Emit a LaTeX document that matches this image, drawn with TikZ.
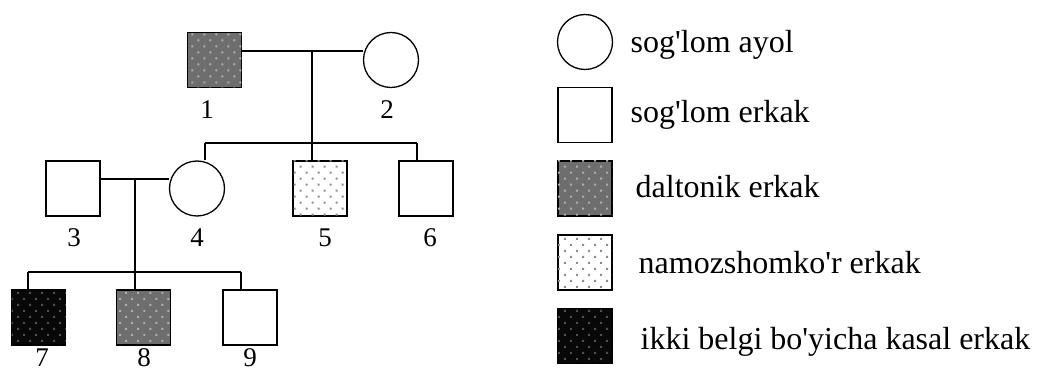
\documentclass[tikz,border=0pt]{standalone}
\usepackage{fontspec}
\setmainfont{Liberation Serif}
\usetikzlibrary{patterns.meta}

\definecolor{darkfill}{RGB}{110,110,110}
\definecolor{darkdot}{RGB}{175,175,175}
\definecolor{lightdot}{RGB}{140,140,140}
\definecolor{blackfill}{RGB}{8,8,8}
\definecolor{blackdot}{RGB}{80,80,80}

\begin{document}
\begin{tikzpicture}[x=1pt, y=-1pt, line width=1.3pt,
  male/.style={draw, rectangle, minimum width=54pt, minimum height=55pt, inner sep=0pt},
  female/.style={draw, circle, minimum size=55pt, inner sep=0pt},
  colourblind/.style={male, fill=darkfill,
    postaction={pattern={Dots[distance=8.5pt, radius=1.4pt, angle=45]}, pattern color=darkdot}},
  nightblind/.style={male, fill=white,
    postaction={pattern={Dots[distance=8.5pt, radius=1.4pt, angle=45]}, pattern color=lightdot}},
  bothill/.style={male, fill=blackfill,
    postaction={pattern={Dots[distance=8.5pt, radius=1.4pt, angle=45]}, pattern color=blackdot}},
  num/.style={anchor=base, inner sep=0pt, font=\fontsize{27}{30}\selectfont},
  legend/.style={anchor=base west, inner sep=0pt, font=\fontsize{32}{36}\selectfont},
  line/.style={draw, line width=1.3pt}]

\useasboundingbox (0,0) rectangle (1041,371);

% generation I
\node[colourblind] (p1) at (214.5,60) {};
\node[female] (p2) at (391,60) {};
% generation II
\node[male] (p3) at (73,188.5) {};
\node[female] (p4) at (197,188.5) {};
\node[nightblind] (p5) at (320,188.5) {};
\node[male] (p6) at (426,188.5) {};
% generation III
\node[bothill] (p7) at (38.5,317.5) {};
\node[colourblind] (p8) at (143.5,317.5) {};
\node[male] (p9) at (250,317.5) {};

% numbers
\node[num] (n1) at (207,119) {1};
\node[num] (n2) at (387,119) {2};
\node[num] (n3) at (74,247) {3};
\node[num] (n4) at (197,247) {4};
\node[num] (n5) at (325,247) {5};
\node[num] (n6) at (430,247) {6};
\node[num] (n7) at (42,366) {7};
\node[num] (n8) at (144,366) {8};
\node[num] (n9) at (250,366) {9};

% couple 1-2 and their children 4, 5, 6
\coordinate (m12) at (312,51);
\coordinate (s1) at (312,143);
\coordinate (s1l) at (205,143);
\coordinate (s1r) at (417,143);
\draw[line] (p1.east |- m12) -- (p2.west |- m12);
\draw[line] (m12) -- (s1) -- (p5.north -| s1);
\draw[line] (s1l) -- (s1r);
\draw[line] (s1l) -- (p4.north -| s1l);
\draw[line] (s1r) -- (p6.north -| s1r);

% couple 3-4 and their children 7, 8, 9
\coordinate (m34) at (135,179);
\coordinate (s2) at (135,272);
\coordinate (s2l) at (28,272);
\coordinate (s2r) at (241,272);
\draw[line] (p3.east |- m34) -- (p4.west |- m34);
\draw[line] (m34) -- (s2) -- (p8.north -| s2);
\draw[line] (s2l) -- (s2r);
\draw[line] (s2l) -- (p7.north -| s2l);
\draw[line] (s2r) -- (p9.north -| s2r);

% key
\node[female] (k1) at (585,42) {};
\node[male] (k2) at (585,115) {};
\node[colourblind] (k3) at (585,188.5) {};
\node[nightblind] (k4) at (585,262.5) {};
\node[bothill] (k5) at (585,336) {};
\node[legend] (t1) at (630,53) {sog\textquotesingle lom ayol};
\node[legend] (t2) at (630,123) {sog\textquotesingle lom erkak};
\node[legend] (t3) at (635,198) {daltonik erkak};
\node[legend] (t4) at (638,273) {namozshomko\textquotesingle r erkak};
\node[legend] (t5) at (640,349) {ikki belgi bo\textquotesingle yicha kasal erkak};
\end{tikzpicture}
\end{document}
